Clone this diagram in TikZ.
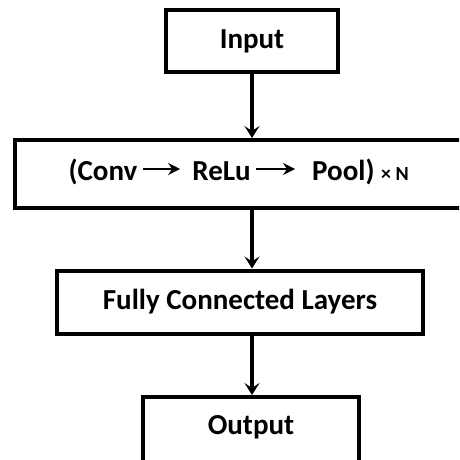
\documentclass[tikz,border=0pt]{standalone}
\usepackage{fontspec}
\setmainfont{Carlito}
\usetikzlibrary{arrows.meta,calc}
\begin{document}
\begin{tikzpicture}[x=1pt,y=-1pt,
  box/.style={draw=black, line width=4pt, fill=white, inner sep=0pt},
  lbl/.style={font=\fontsize{29}{33}\selectfont\bfseries, inner sep=0pt},
  flow/.style={line width=4pt, -{Stealth[length=12pt,width=15pt,inset=5pt]}},
  tflow/.style={line width=2.6pt, -{Stealth[length=12pt,width=12pt,inset=4pt]}}]
\useasboundingbox (0,0) rectangle (459,460);
\clip (0,0) rectangle (459,460);
\fill[white] (0,0) rectangle (459,460);
% boxes
\node[box, lbl, minimum width=172pt, minimum height=62pt] (in) at (252,41) {Input};
\node[box, minimum width=448pt, minimum height=68pt] (cnn) at (239,174) {};
\node[box, lbl, minimum width=366pt, minimum height=63pt] (fc) at (240,302) {Fully Connected Layers};
\node[box, lbl, anchor=base, minimum width=216pt, text height=37pt, text depth=30pt] (out) at (251,434) {Output};
% text inside the convolution box
\node[lbl, anchor=base] (conv) at (103,180) {(Conv};
\node[lbl, anchor=base] (relu) at (221.5,180) {ReLu};
\node[lbl, anchor=base] (pool) at (360.5,180) {Pool) {\fontsize{20}{23}\selectfont × N}};
\draw[tflow] ($(conv.base east)+(5,-11)$) -- ($(relu.base west)+(-12,-11)$);
\draw[tflow] ($(relu.base east)+(5,-11)$) -- ($(pool.base west)+(-17,-11)$);
% connectors
\draw[flow] (in.south) -- (in.south |- cnn.north);
\draw[flow] (in.south |- cnn.south) -- (in.south |- fc.north);
\draw[flow] (in.south |- fc.south) -- (in.south |- out.north);
\end{tikzpicture}
\end{document}
